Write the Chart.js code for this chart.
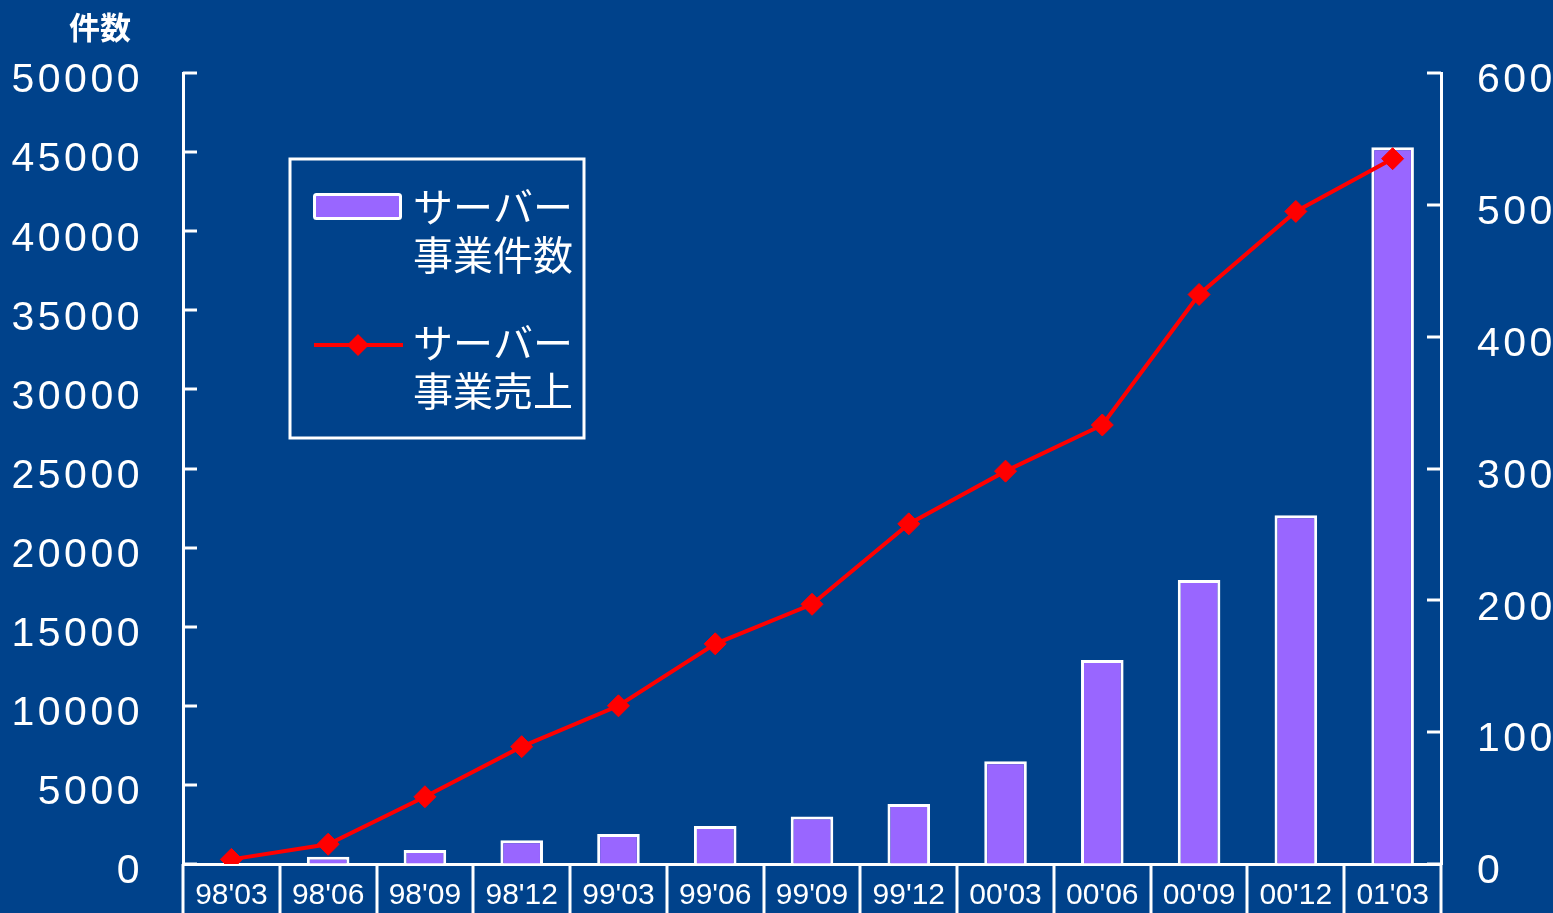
<!DOCTYPE html>
<html><head><meta charset="utf-8">
<script src="https://cdn.jsdelivr.net/npm/chart.js@4/dist/chart.umd.min.js"></script>
<style>
html,body{margin:0;padding:0;background:#00428B;overflow:hidden}
#wrap{width:1553px;height:913px;position:relative}
</style>
</head><body><div id="wrap"><canvas id="c" width="1553" height="913"></canvas></div>
<script>
// ---- data ----
const categories = ["98'03","98'06","98'09","98'12","99'03","99'06","99'09","99'12","00'03","00'06","00'09","00'12","01'03"];
const serverCounts = [null, 460, 885, 1500, 1900, 2400, 3000, 3800, 6500, 12900, 17950, 22050, 45300];
const serverSales = [3.5, 15, 51, 89, 120, 167, 197, 258, 298, 333, 432, 495, 535];
const leftAxisMax = 50000, leftAxisStep = 5000;
const rightAxisMax = 600, rightAxisStep = 100;
const countLabel = ["サーバー","事業件数"];
const salesLabel = ["サーバー","事業売上"];
const axisTitle = "件数";

const BG = '#00428B', BAR = '#9966FF', LINE = '#FF0000', WHITE = '#FFFFFF';

class SpacedLinear extends Chart.LinearScale {
  drawLabels(area) {
    const ctx = this.ctx; ctx.save(); ctx.letterSpacing = '3.5px';
    super.drawLabels(area); ctx.restore();
  }
}
SpacedLinear.id = 'spacedLinear';
SpacedLinear.defaults = Chart.LinearScale.defaults;
Chart.register(SpacedLinear);

const decor = {
  id: 'decor',
  beforeDraw(chart) {
    const ctx = chart.ctx;
    ctx.save(); ctx.fillStyle = BG; ctx.fillRect(0, 0, chart.width, chart.height); ctx.restore();
  },
  afterDraw(chart) {
    const ctx = chart.ctx, x = chart.scales.x, y = chart.scales.y, y1 = chart.scales.y1;
    const area = chart.chartArea;
    ctx.save();
    ctx.strokeStyle = WHITE; ctx.lineWidth = 3;
    for (let i = 0; i <= categories.length; i++) {
      const px = Math.round(x.getPixelForValue(i - 0.5));
      ctx.beginPath(); ctx.moveTo(px, area.bottom); ctx.lineTo(px, chart.height); ctx.stroke();
    }
    y.ticks.forEach(t => {
      const py = Math.round(y.getPixelForValue(t.value));
      ctx.beginPath(); ctx.moveTo(area.left, py); ctx.lineTo(area.left + 14, py); ctx.stroke();
    });
    y1.ticks.forEach(t => {
      const py = Math.round(y1.getPixelForValue(t.value));
      ctx.beginPath(); ctx.moveTo(area.right, py); ctx.lineTo(area.right - 14, py); ctx.stroke();
    });
    ctx.fillStyle = WHITE;
    ctx.font = 'bold 31px "Noto Sans CJK JP"';
    ctx.textAlign = 'center'; ctx.textBaseline = 'middle';
    ctx.fillText(axisTitle, 100, 27);
    ctx.lineWidth = 3; ctx.strokeStyle = WHITE;
    ctx.strokeRect(290, 159, 294, 279);
    ctx.fillStyle = BAR;
    ctx.beginPath(); ctx.roundRect(314.5, 194.5, 86, 24, 2); ctx.fill(); ctx.stroke();
    ctx.strokeStyle = LINE; ctx.lineWidth = 4;
    ctx.beginPath(); ctx.moveTo(314, 345); ctx.lineTo(403, 345); ctx.stroke();
    ctx.fillStyle = LINE;
    ctx.beginPath(); ctx.moveTo(358, 334); ctx.lineTo(369, 345); ctx.lineTo(358, 356); ctx.lineTo(347, 345); ctx.closePath(); ctx.fill();
    ctx.fillStyle = WHITE; ctx.font = '40px "Noto Sans CJK JP"';
    ctx.textAlign = 'left'; ctx.textBaseline = 'middle';
    ctx.fillText(countLabel[0], 413, 207);
    ctx.fillText(countLabel[1], 413, 255);
    ctx.fillText(salesLabel[0], 413, 343);
    ctx.fillText(salesLabel[1], 413, 391);
    ctx.restore();
  }
};

const plain = v => String(v);

new Chart(document.getElementById('c'), {
  data: {
    labels: categories,
    datasets: [
      {
        type: 'line', label: salesLabel.join(''), data: serverSales, yAxisID: 'y1', order: 0,
        borderColor: LINE, borderWidth: 4, tension: 0,
        pointStyle: 'rectRot', pointRadius: 11, pointBackgroundColor: LINE, pointBorderColor: LINE, pointBorderWidth: 1
      },
      {
        type: 'bar', label: countLabel.join(''), data: serverCounts, yAxisID: 'y', order: 1,
        backgroundColor: BAR, borderColor: WHITE, borderWidth: 3,
        categoryPercentage: 1, barPercentage: 0.44
      }
    ]
  },
  options: {
    responsive: false, animation: false, devicePixelRatio: 1,
    layout: { padding: { top: 73, left: 0, right: 0, bottom: 0 } },
    plugins: { legend: { display: false }, tooltip: { enabled: false } },
    scales: {
      x: {
        type: 'category', offset: true,
        grid: { display: false },
        border: { display: true, color: WHITE, width: 3 },
        ticks: { color: WHITE, font: { family: '"Liberation Sans", Arial', size: 30 }, padding: 6, maxRotation: 0, autoSkip: false },
        afterFit(s) { s.height = 49; }
      },
      y: {
        type: 'spacedLinear', position: 'left', min: 0, max: leftAxisMax,
        grid: { display: true, drawOnChartArea: false, drawTicks: true, tickLength: 40, color: 'rgba(0,0,0,0)' },
        border: { display: true, color: WHITE, width: 3 },
        ticks: { stepSize: leftAxisStep, color: WHITE, font: { family: '"Liberation Sans", Arial', size: 41 }, padding: 0, labelOffset: 8, callback: plain },
        afterFit(s) { s.width = 183; }
      },
      y1: {
        type: 'spacedLinear', position: 'right', min: 0, max: rightAxisMax,
        grid: { display: true, drawOnChartArea: false, drawTicks: true, tickLength: 36, color: 'rgba(0,0,0,0)' },
        border: { display: true, color: WHITE, width: 3 },
        ticks: { stepSize: rightAxisStep, color: WHITE, font: { family: '"Liberation Sans", Arial', size: 41 }, padding: 0, labelOffset: 8, callback: plain },
        afterFit(s) { s.width = 112; }
      }
    }
  },
  plugins: [decor]
});
</script>
</body></html>
